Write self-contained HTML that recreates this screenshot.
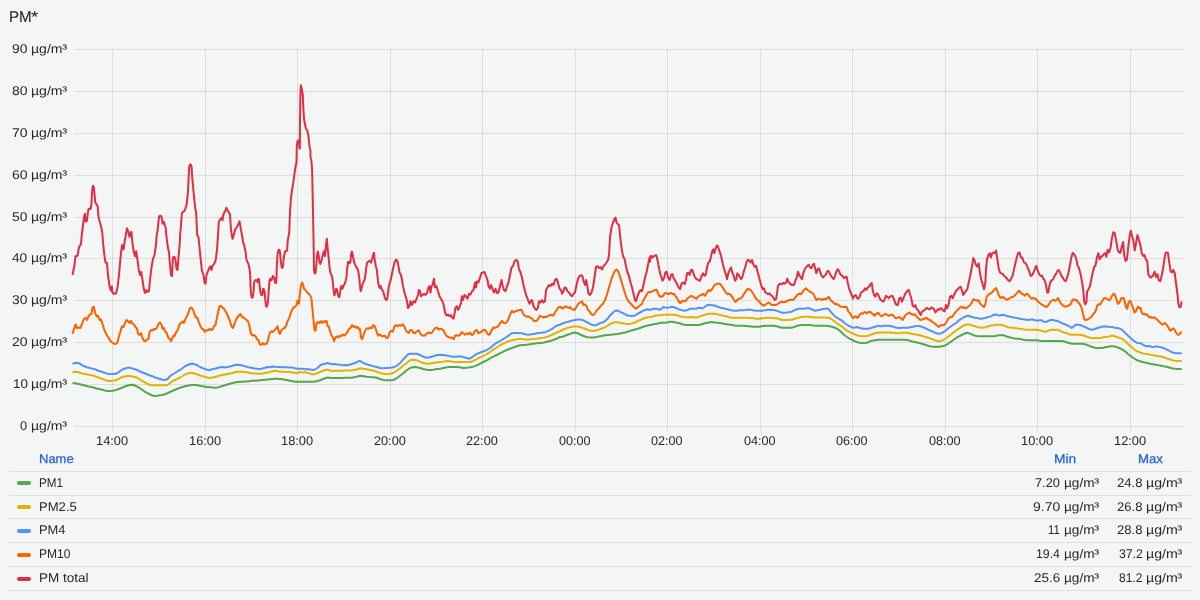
<!DOCTYPE html>
<html lang="en"><head><meta charset="utf-8"><title>PM*</title>
<style>
html,body{margin:0;padding:0}
body{width:1200px;height:600px;overflow:hidden;background:#f4f5f5;color:#24292e;font-family:"Liberation Sans",sans-serif;font-size:12.6px;position:relative;text-rendering:geometricPrecision}
.plot{position:absolute;left:0;top:0}
.t{position:absolute;line-height:16px;white-space:pre;transform-origin:0 0}
.g{position:absolute;left:0;top:0;width:0;height:0}
.sw{position:absolute;left:17px;width:14px;height:4px;border-radius:2px}
.hl{position:absolute;left:9px;width:1182px;height:1px;background:rgba(64,66,74,0.125)}
</style></head><body>
<svg class="plot" width="1200" height="450" viewBox="0 0 1200 450"><g stroke="#40424a" stroke-opacity="0.125" stroke-width="1" shape-rendering="crispEdges"><line x1="74" x2="1184" y1="426.5" y2="426.5"/><line x1="74" x2="1184" y1="384.5" y2="384.5"/><line x1="74" x2="1184" y1="342.5" y2="342.5"/><line x1="74" x2="1184" y1="300.5" y2="300.5"/><line x1="74" x2="1184" y1="258.5" y2="258.5"/><line x1="74" x2="1184" y1="217.5" y2="217.5"/><line x1="74" x2="1184" y1="175.5" y2="175.5"/><line x1="74" x2="1184" y1="133.5" y2="133.5"/><line x1="74" x2="1184" y1="91.5" y2="91.5"/><line x1="74" x2="1184" y1="49.5" y2="49.5"/><line x1="112.5" x2="112.5" y1="49" y2="431"/><line x1="205.5" x2="205.5" y1="49" y2="431"/><line x1="297.5" x2="297.5" y1="49" y2="431"/><line x1="390.5" x2="390.5" y1="49" y2="431"/><line x1="482.5" x2="482.5" y1="49" y2="431"/><line x1="575.5" x2="575.5" y1="49" y2="431"/><line x1="667.5" x2="667.5" y1="49" y2="431"/><line x1="760.5" x2="760.5" y1="49" y2="431"/><line x1="852.5" x2="852.5" y1="49" y2="431"/><line x1="945.5" x2="945.5" y1="49" y2="431"/><line x1="1037.5" x2="1037.5" y1="49" y2="431"/><line x1="1130.5" x2="1130.5" y1="49" y2="431"/></g><clipPath id="cp"><rect x="71" y="40" width="1114" height="395"/></clipPath><g fill="none" stroke-width="2" stroke-linejoin="round" stroke-linecap="butt" clip-path="url(#cp)"><path stroke="#56A64B" d="M72.5 383.0L75.0 383.2L77.5 383.8L80.0 384.2L82.5 385.0L85.0 385.5L87.5 386.2L90.0 386.8L92.5 387.2L95.0 388.0L97.5 388.8L100.0 389.2L102.5 389.8L105.0 390.5L107.5 391.0L110.0 391.0L112.5 390.8L115.0 390.2L117.5 389.5L120.0 388.5L122.5 387.5L125.0 386.5L127.5 385.5L130.0 385.0L132.5 384.8L135.0 385.5L137.5 386.8L140.0 388.2L142.5 390.0L145.0 391.8L147.5 393.2L150.0 394.5L152.5 395.5L155.0 396.0L157.5 395.8L160.0 395.2L162.5 395.0L165.0 394.2L167.5 393.2L170.0 392.0L172.5 390.8L175.0 389.8L177.5 388.8L180.0 387.8L182.5 387.0L185.0 386.2L187.5 385.8L190.0 385.2L192.5 385.0L195.0 385.0L197.5 385.2L200.0 385.8L202.5 386.2L205.0 386.8L207.5 387.0L210.0 387.2L212.5 387.5L215.0 387.8L217.5 387.5L220.0 386.8L222.5 386.0L225.0 385.2L227.5 384.5L230.0 383.8L232.5 383.0L235.0 382.5L237.5 382.0L240.0 381.8L242.5 381.8L245.0 381.5L247.5 381.5L250.0 381.0L252.5 380.8L255.0 380.8L257.5 380.5L260.0 380.2L262.5 380.0L265.0 379.8L267.5 379.5L270.0 379.2L272.5 379.0L275.0 378.8L277.5 378.8L280.0 379.0L282.5 379.2L285.0 379.8L287.5 380.2L290.0 380.8L292.5 381.2L295.0 381.8L297.5 381.8L300.0 381.8L302.5 381.8L305.0 381.8L307.5 381.8L310.0 381.8L312.5 381.8L315.0 381.5L317.5 381.0L320.0 380.2L322.5 379.2L325.0 378.2L327.5 377.5L330.0 377.8L332.5 378.0L335.0 378.0L337.5 378.0L340.0 378.0L342.5 378.0L345.0 377.8L347.5 377.8L350.0 377.8L352.5 377.5L355.0 377.0L357.5 376.5L360.0 375.8L363.3 376.2L366.7 376.7L370.0 377.0L373.3 377.2L376.7 377.7L380.0 379.0L383.3 380.0L386.7 380.2L390.0 380.2L393.3 380.0L396.7 378.3L400.0 375.8L403.3 373.3L406.7 370.3L410.0 368.0L413.3 367.0L416.7 367.2L420.0 368.0L423.3 369.0L426.7 369.7L430.0 370.0L433.3 369.7L436.7 369.0L440.0 368.7L443.3 368.0L446.7 367.3L450.0 367.0L453.3 367.0L456.7 367.0L460.0 367.3L463.3 368.0L466.7 367.7L470.0 367.3L473.3 366.7L476.7 365.3L480.0 363.7L483.3 362.0L486.7 360.3L490.0 358.3L493.3 356.7L496.7 355.0L500.0 353.3L503.3 351.7L506.7 350.0L510.0 348.7L513.3 347.5L516.7 346.3L520.0 345.3L523.3 345.0L526.7 344.7L530.0 344.2L533.3 343.7L536.7 343.3L540.0 343.0L543.3 342.7L546.7 341.7L550.0 341.0L553.3 340.0L556.7 338.7L560.0 337.0L562.5 336.8L565.0 335.8L567.5 334.8L570.0 334.0L572.5 333.0L575.0 332.5L577.5 333.2L580.0 334.5L582.5 335.5L585.0 336.5L587.5 337.2L590.0 337.5L592.5 337.5L595.0 337.2L597.5 336.8L600.0 336.2L602.5 335.8L605.0 335.2L607.5 335.0L610.0 334.8L612.5 334.5L615.0 334.2L617.5 334.0L620.0 333.5L622.5 333.0L625.0 332.5L627.5 331.8L630.0 331.0L632.5 330.2L635.0 329.5L637.5 328.8L640.0 328.0L642.5 327.0L645.0 326.2L647.5 325.5L650.0 325.0L651.7 324.7L653.3 324.3L655.0 324.0L656.7 323.7L658.3 323.3L660.0 323.0L661.7 322.8L663.3 322.7L665.0 322.7L666.7 322.5L668.3 322.2L670.0 321.7L671.7 321.7L673.3 322.0L675.0 322.3L676.7 322.7L678.3 323.0L680.0 323.3L681.7 324.0L683.3 324.5L685.0 324.8L686.7 325.0L688.3 325.0L690.0 325.0L691.7 325.0L693.3 325.0L695.0 325.0L696.7 325.0L698.3 325.0L700.0 324.7L701.7 324.2L703.3 323.7L705.0 323.2L706.7 322.8L708.3 322.7L710.0 322.3L711.7 322.0L713.3 322.2L715.0 322.5L716.7 322.7L718.3 322.8L720.0 323.0L721.7 323.3L723.3 323.7L725.0 324.0L726.7 324.3L728.3 324.5L730.0 324.7L731.7 324.8L733.3 325.2L735.0 325.5L736.7 325.7L738.3 325.8L740.0 325.8L741.7 325.8L743.3 325.8L745.0 326.0L746.7 326.0L748.3 326.2L750.0 326.3L751.7 326.7L753.3 326.8L755.0 326.8L756.7 326.8L758.3 326.7L760.0 326.5L761.7 326.2L763.3 326.0L765.0 325.8L766.7 325.8L768.3 325.8L770.0 325.8L771.7 325.8L773.3 325.8L775.0 326.0L776.7 326.3L778.3 326.7L780.0 327.2L781.7 327.7L783.3 327.8L785.0 327.8L786.7 327.8L788.3 327.8L790.0 327.8L791.7 327.7L793.3 327.3L795.0 326.7L796.7 326.0L798.3 325.5L800.0 325.2L801.7 325.0L803.3 325.0L805.0 325.0L806.7 325.0L808.3 325.0L810.0 325.0L811.7 325.2L813.3 325.5L815.0 325.7L816.7 325.8L818.3 325.8L820.0 325.8L821.7 325.8L823.3 325.8L825.0 325.8L826.7 325.8L828.3 326.0L830.0 326.3L831.7 326.7L833.3 327.2L835.0 327.8L836.7 328.7L838.3 329.7L840.0 330.8L841.7 332.5L843.3 334.2L845.0 335.5L846.7 336.7L848.3 337.8L850.0 338.8L851.7 339.7L853.3 340.5L855.0 341.3L856.7 342.0L858.3 342.5L860.0 342.8L861.7 343.0L863.3 343.0L865.0 343.0L866.7 342.8L868.3 342.2L870.0 341.3L871.7 340.8L873.3 340.5L875.0 340.2L876.7 340.0L878.3 339.8L880.0 339.8L881.7 339.7L883.3 339.7L885.0 339.7L886.7 339.7L888.3 339.7L890.0 339.7L891.7 339.7L893.3 339.7L895.0 339.7L896.7 339.7L898.3 339.7L900.0 339.7L901.7 339.7L903.3 339.7L905.0 339.8L906.7 340.0L908.3 340.3L910.0 340.7L911.7 341.2L913.3 341.7L915.0 342.0L916.7 342.5L918.3 342.8L920.0 343.3L921.7 343.8L923.3 344.3L925.0 344.8L926.7 345.3L928.3 345.8L930.0 346.2L931.7 346.5L933.3 346.7L935.0 346.8L936.7 346.8L938.3 346.8L940.0 346.7L941.7 346.3L943.3 346.0L945.0 345.5L946.7 344.7L948.3 343.5L950.0 342.3L951.7 341.2L953.3 340.0L955.0 338.8L956.7 337.7L958.3 336.7L960.0 335.8L961.7 335.0L963.3 334.2L965.0 333.3L966.7 332.8L968.3 333.0L970.0 333.7L971.7 334.3L973.3 335.0L975.0 335.7L976.7 336.0L978.3 336.2L980.0 336.2L981.7 336.2L983.3 336.2L985.0 336.2L986.7 336.2L988.3 336.2L990.0 336.2L991.7 336.2L993.3 336.2L995.0 336.0L996.7 335.7L998.3 335.3L1000.0 335.2L1001.7 335.0L1003.3 335.3L1005.0 335.8L1006.7 336.5L1008.3 337.0L1010.0 337.5L1011.7 337.8L1013.3 338.2L1015.0 338.5L1016.7 338.7L1018.3 338.8L1020.0 339.0L1021.7 339.3L1023.3 339.7L1025.0 340.0L1026.7 340.2L1028.3 340.2L1030.0 340.2L1031.7 340.2L1033.3 340.2L1035.0 340.2L1036.7 340.3L1038.3 340.5L1040.0 340.8L1041.7 341.0L1043.3 341.0L1045.0 341.0L1046.7 341.0L1048.3 341.0L1050.0 341.0L1051.7 341.0L1053.3 341.0L1055.0 341.0L1056.7 341.0L1058.3 341.0L1060.0 341.0L1061.7 341.0L1063.3 341.2L1065.0 341.7L1066.7 342.3L1068.3 342.8L1070.0 343.3L1071.7 343.7L1073.3 343.8L1075.0 343.8L1076.7 343.8L1078.3 343.8L1080.0 343.8L1081.7 343.8L1083.3 344.0L1085.0 344.3L1086.7 344.8L1088.3 345.5L1090.0 346.2L1091.7 346.7L1093.3 347.2L1095.0 347.7L1096.7 348.0L1098.3 348.0L1100.0 348.0L1101.7 348.0L1103.3 347.8L1105.0 347.3L1106.7 347.0L1108.3 346.7L1110.0 346.3L1111.7 346.2L1113.3 346.2L1115.0 346.5L1116.7 347.0L1118.3 347.7L1120.0 348.3L1121.7 349.2L1123.3 350.2L1125.0 351.3L1126.7 352.7L1128.3 354.2L1130.0 355.5L1131.7 356.8L1133.3 358.0L1135.0 359.0L1136.7 360.0L1138.3 360.7L1140.0 361.2L1141.7 361.7L1143.3 362.2L1145.0 362.5L1146.7 362.8L1148.3 363.3L1150.0 363.7L1151.7 364.0L1153.3 364.3L1155.0 364.7L1156.7 364.8L1158.3 365.2L1160.0 365.5L1161.7 365.8L1163.3 366.2L1165.0 366.5L1166.7 366.8L1168.3 367.2L1170.0 367.7L1171.7 368.2L1173.3 368.5L1175.0 368.8L1176.7 369.0L1178.3 369.0L1180.0 369.0L1181.7 369.0"/><path stroke="#E0B400" d="M72.5 372.0L75.0 371.8L77.5 372.0L80.0 372.8L82.5 373.5L85.0 374.0L87.5 374.5L90.0 375.0L92.5 375.2L95.0 376.2L97.5 377.0L100.0 378.0L102.5 379.0L105.0 380.0L107.5 380.8L110.0 381.0L112.5 380.8L115.0 380.5L117.5 379.5L120.0 378.2L122.5 377.0L125.0 376.5L127.5 376.0L130.0 376.0L132.5 376.5L135.0 377.0L137.5 378.0L140.0 379.5L142.5 381.2L145.0 382.5L147.5 383.8L150.0 385.0L152.5 385.2L155.0 385.2L157.5 385.2L160.0 385.2L162.5 385.2L165.0 385.2L167.5 385.0L170.0 383.0L172.5 381.2L175.0 380.0L177.5 378.8L180.0 377.5L182.5 376.0L185.0 374.5L187.5 373.5L190.0 372.8L192.5 373.0L195.0 373.8L197.5 374.5L200.0 375.5L202.5 376.2L205.0 377.0L207.5 377.5L210.0 378.0L212.5 377.5L215.0 377.0L217.5 376.2L220.0 375.5L222.5 375.0L225.0 374.5L227.5 374.0L230.0 373.5L232.5 373.0L235.0 372.2L237.5 371.8L240.0 371.8L242.5 371.8L245.0 372.0L247.5 372.5L250.0 373.0L252.5 373.2L255.0 373.5L257.5 373.8L260.0 373.8L262.5 373.5L265.0 373.0L267.5 372.5L270.0 372.0L272.5 371.2L275.0 370.8L277.5 371.2L280.0 371.5L282.5 371.8L285.0 372.0L287.5 372.0L290.0 372.0L292.5 372.5L295.0 373.0L297.5 373.0L300.0 372.0L302.5 372.5L305.0 372.0L307.5 373.0L310.0 373.5L312.5 374.5L315.0 374.0L317.5 373.0L320.0 372.0L322.5 371.0L325.0 370.0L327.5 369.5L330.0 370.5L332.5 371.0L335.0 370.8L337.5 370.8L340.0 370.8L342.5 370.8L345.0 370.5L347.5 370.5L350.0 370.5L352.5 370.2L355.0 369.8L357.5 369.2L360.0 368.3L363.3 368.7L366.7 369.3L370.0 370.0L373.3 370.8L376.7 371.7L380.0 373.0L383.3 373.8L386.7 374.0L390.0 373.8L393.3 373.0L396.7 370.8L400.0 368.3L403.3 365.8L406.7 363.0L410.0 360.3L413.3 359.7L416.7 360.3L420.0 361.7L423.3 363.0L426.7 363.7L430.0 363.5L433.3 363.0L436.7 362.5L440.0 362.0L443.3 361.7L446.7 361.0L450.0 361.3L453.3 361.7L456.7 362.0L460.0 362.0L463.3 362.0L466.7 362.0L470.0 362.0L473.3 361.0L476.7 359.2L480.0 357.5L483.3 355.8L486.7 354.2L490.0 352.0L493.3 349.7L496.7 347.5L500.0 345.3L503.3 343.7L506.7 342.0L510.0 340.8L513.3 340.0L516.7 339.3L520.0 338.8L523.3 339.3L526.7 339.7L530.0 339.3L533.3 339.0L536.7 338.7L540.0 338.0L543.3 337.7L546.7 337.0L550.0 335.8L553.3 334.2L556.7 332.5L560.0 331.3L562.5 329.8L565.0 328.8L567.5 328.0L570.0 327.2L572.5 326.8L575.0 326.5L577.5 326.5L580.0 327.0L582.5 327.8L585.0 328.8L587.5 329.8L590.0 330.5L592.5 331.0L595.0 330.8L597.5 330.0L600.0 329.2L602.5 328.2L605.0 327.2L607.5 325.8L610.0 324.2L612.5 323.0L615.0 322.2L617.5 322.2L620.0 322.8L622.5 323.2L625.0 323.8L627.5 324.0L630.0 323.8L632.5 323.2L635.0 322.5L637.5 321.2L640.0 320.0L642.5 319.0L645.0 318.0L647.5 317.2L650.0 317.0L651.7 316.7L653.3 316.3L655.0 315.8L656.7 315.5L658.3 315.3L660.0 315.2L661.7 315.0L663.3 314.8L665.0 314.7L666.7 314.7L668.3 314.7L670.0 314.7L671.7 314.7L673.3 314.8L675.0 315.0L676.7 315.3L678.3 315.8L680.0 316.3L681.7 316.7L683.3 317.0L685.0 317.2L686.7 317.2L688.3 317.2L690.0 317.2L691.7 317.0L693.3 317.2L695.0 317.5L696.7 317.5L698.3 317.0L700.0 316.3L701.7 315.8L703.3 315.3L705.0 314.7L706.7 314.2L708.3 313.8L710.0 313.7L711.7 313.7L713.3 313.7L715.0 313.8L716.7 314.2L718.3 314.5L720.0 315.0L721.7 315.3L723.3 315.7L725.0 316.0L726.7 316.3L728.3 317.0L730.0 317.5L731.7 317.7L733.3 317.8L735.0 317.8L736.7 317.8L738.3 317.8L740.0 317.8L741.7 317.8L743.3 317.8L745.0 317.8L746.7 317.8L748.3 317.8L750.0 318.0L751.7 318.0L753.3 318.2L755.0 318.5L756.7 318.7L758.3 318.7L760.0 318.7L761.7 318.3L763.3 318.2L765.0 318.0L766.7 317.8L768.3 317.8L770.0 317.8L771.7 318.0L773.3 318.0L775.0 318.2L776.7 318.3L778.3 318.7L780.0 319.2L781.7 319.7L783.3 320.0L785.0 320.0L786.7 320.0L788.3 320.0L790.0 319.8L791.7 319.7L793.3 319.2L795.0 318.7L796.7 318.2L798.3 317.7L800.0 317.3L801.7 317.0L803.3 316.8L805.0 316.8L806.7 316.8L808.3 316.8L810.0 317.0L811.7 317.2L813.3 317.3L815.0 317.5L816.7 317.5L818.3 317.5L820.0 317.5L821.7 317.5L823.3 317.5L825.0 317.5L826.7 317.5L828.3 317.7L830.0 318.3L831.7 319.3L833.3 320.5L835.0 321.7L836.7 323.0L838.3 324.2L840.0 325.3L841.7 326.3L843.3 327.8L845.0 329.2L846.7 330.3L848.3 331.3L850.0 332.2L851.7 333.0L853.3 333.7L855.0 334.3L856.7 335.3L858.3 335.8L860.0 336.0L861.7 336.2L863.3 336.2L865.0 336.2L866.7 336.0L868.3 335.7L870.0 335.0L871.7 334.3L873.3 333.7L875.0 333.2L876.7 332.8L878.3 332.7L880.0 332.5L881.7 332.5L883.3 332.5L885.0 332.5L886.7 332.5L888.3 332.5L890.0 332.5L891.7 332.7L893.3 332.8L895.0 333.0L896.7 333.3L898.3 333.3L900.0 333.0L901.7 332.8L903.3 332.8L905.0 332.8L906.7 332.8L908.3 333.0L910.0 333.3L911.7 333.7L913.3 334.0L915.0 334.3L916.7 334.7L918.3 335.0L920.0 335.3L921.7 335.8L923.3 336.3L925.0 336.8L926.7 337.3L928.3 337.8L930.0 338.3L931.7 339.0L933.3 339.7L935.0 340.3L936.7 340.8L938.3 341.2L940.0 341.0L941.7 340.7L943.3 340.0L945.0 339.0L946.7 337.8L948.3 336.7L950.0 335.3L951.7 334.0L953.3 332.5L955.0 331.2L956.7 330.0L958.3 328.8L960.0 327.8L961.7 326.7L963.3 325.7L965.0 325.0L966.7 324.5L968.3 324.5L970.0 324.8L971.7 325.3L973.3 325.8L975.0 326.3L976.7 326.8L978.3 327.2L980.0 327.5L981.7 327.8L983.3 327.8L985.0 327.3L986.7 326.7L988.3 326.2L990.0 325.8L991.7 325.5L993.3 325.2L995.0 325.0L996.7 324.8L998.3 324.8L1000.0 324.8L1001.7 325.0L1003.3 325.3L1005.0 326.0L1006.7 326.7L1008.3 327.2L1010.0 327.5L1011.7 327.7L1013.3 327.8L1015.0 328.0L1016.7 328.3L1018.3 328.5L1020.0 328.8L1021.7 329.0L1023.3 329.3L1025.0 329.5L1026.7 329.7L1028.3 329.7L1030.0 329.7L1031.7 329.7L1033.3 329.7L1035.0 329.7L1036.7 329.8L1038.3 330.0L1040.0 330.3L1041.7 330.8L1043.3 331.3L1045.0 331.7L1046.7 331.3L1048.3 330.8L1050.0 330.0L1051.7 329.7L1053.3 329.7L1055.0 330.0L1056.7 329.8L1058.3 329.7L1060.0 330.8L1061.7 331.7L1063.3 332.3L1065.0 332.8L1066.7 333.3L1068.3 333.8L1070.0 334.5L1071.7 334.8L1073.3 334.8L1075.0 334.8L1076.7 334.8L1078.3 334.8L1080.0 334.8L1081.7 335.0L1083.3 335.5L1085.0 336.0L1086.7 336.7L1088.3 337.3L1090.0 337.8L1091.7 338.0L1093.3 338.0L1095.0 338.0L1096.7 338.0L1098.3 338.0L1100.0 338.0L1101.7 337.7L1103.3 337.3L1105.0 337.0L1106.7 337.0L1108.3 336.7L1110.0 336.2L1111.7 335.8L1113.3 335.8L1115.0 336.3L1116.7 337.0L1118.3 337.5L1120.0 338.0L1121.7 338.7L1123.3 339.7L1125.0 341.0L1126.7 342.5L1128.3 344.2L1130.0 345.7L1131.7 347.2L1133.3 348.7L1135.0 350.0L1136.7 350.8L1138.3 351.7L1140.0 352.3L1141.7 353.0L1143.3 353.5L1145.0 353.8L1146.7 354.0L1148.3 354.3L1150.0 354.7L1151.7 355.0L1153.3 355.3L1155.0 355.7L1156.7 356.0L1158.3 356.2L1160.0 356.3L1161.7 356.7L1163.3 357.2L1165.0 357.7L1166.7 358.3L1168.3 359.0L1170.0 359.5L1171.7 360.0L1173.3 360.5L1175.0 360.8L1176.7 361.0L1178.3 361.0L1180.0 361.0L1181.7 361.0"/><path stroke="#5794F2" d="M72.5 363.8L75.0 363.0L77.5 362.8L80.0 363.8L82.5 365.5L85.0 366.5L87.5 367.5L90.0 368.0L92.5 368.8L95.0 369.2L97.5 370.5L100.0 371.2L102.5 372.0L105.0 373.0L107.5 373.8L110.0 374.0L112.5 374.0L115.0 374.0L117.5 373.0L120.0 371.2L122.5 369.5L125.0 368.5L127.5 367.8L130.0 367.8L132.5 368.5L135.0 369.2L137.5 370.2L140.0 371.5L142.5 372.5L145.0 373.5L147.5 374.5L150.0 375.5L152.5 376.2L155.0 377.5L157.5 378.2L160.0 379.0L162.5 379.8L165.0 380.0L167.5 379.0L170.0 376.2L172.5 374.5L175.0 373.0L177.5 371.2L180.0 370.0L182.5 368.2L185.0 366.2L187.5 365.0L190.0 364.0L192.5 363.8L195.0 364.2L197.5 365.5L200.0 367.0L202.5 368.0L205.0 369.2L207.5 369.8L210.0 370.2L212.5 369.0L215.0 368.8L217.5 368.0L220.0 367.2L222.5 367.0L225.0 367.5L227.5 367.0L230.0 366.5L232.5 365.8L235.0 365.0L237.5 364.8L240.0 365.0L242.5 365.5L245.0 366.2L247.5 367.0L250.0 367.5L252.5 368.0L255.0 368.5L257.5 368.8L260.0 369.0L262.5 368.5L265.0 367.8L267.5 367.0L270.0 367.2L272.5 366.5L275.0 366.8L277.5 367.0L280.0 367.0L282.5 367.2L285.0 367.2L287.5 367.2L290.0 367.5L292.5 367.5L295.0 368.2L297.5 368.8L300.0 368.8L302.5 368.8L305.0 369.2L307.5 369.0L310.0 369.5L312.5 370.0L315.0 369.5L317.5 368.0L320.0 365.5L322.5 364.2L325.0 363.8L327.5 363.0L330.0 363.8L332.5 364.2L335.0 364.0L337.5 364.5L340.0 364.8L342.5 365.2L345.0 365.0L347.5 365.2L350.0 364.5L352.5 363.8L355.0 363.0L357.5 361.8L360.0 360.8L363.3 363.0L366.7 364.2L370.0 365.3L373.3 366.3L376.7 367.0L380.0 368.0L383.3 368.3L386.7 368.0L390.0 367.7L393.3 367.3L396.7 365.8L400.0 363.3L403.3 359.2L406.7 355.8L408.3 354.2L410.0 353.7L413.3 353.8L416.7 353.7L420.0 355.0L423.3 356.7L426.7 357.7L430.0 357.2L433.3 356.2L436.7 355.0L440.0 354.7L443.3 355.0L446.7 355.5L450.0 356.3L453.3 356.7L456.7 356.7L460.0 356.2L463.3 357.0L466.7 358.0L469.2 358.7L471.7 357.5L475.0 355.0L478.3 353.3L481.7 352.0L485.0 350.8L488.3 349.2L491.7 346.7L495.0 343.7L498.3 342.0L501.7 340.0L505.0 338.0L508.3 335.8L511.7 333.3L515.0 333.0L518.3 333.0L521.7 333.3L525.0 334.3L528.3 334.7L531.7 334.3L535.0 333.7L538.3 333.0L541.7 332.7L545.0 332.2L548.3 330.8L551.7 329.2L555.0 326.7L558.3 325.0L560.0 324.7L562.5 323.5L565.0 322.5L567.5 322.0L570.0 321.2L572.5 320.5L575.0 320.0L577.5 319.5L580.0 319.5L582.5 320.0L585.0 321.2L587.5 322.5L590.0 323.8L592.5 325.0L595.0 325.5L597.5 324.5L600.0 323.2L602.5 322.5L605.0 321.2L607.5 318.8L610.0 315.5L612.5 313.0L615.0 310.8L617.5 310.5L620.0 311.8L622.5 313.0L625.0 314.2L627.5 315.5L630.0 315.8L632.5 316.0L635.0 315.5L637.5 313.8L640.0 312.5L642.5 311.2L645.0 310.0L647.5 309.2L650.0 310.0L651.7 309.2L653.3 308.8L655.0 308.7L656.7 308.7L658.3 309.2L660.0 309.7L661.7 308.7L663.3 307.0L665.0 307.5L666.7 307.8L668.3 307.5L670.0 307.2L671.7 306.7L673.3 307.0L675.0 307.7L676.7 308.3L678.3 309.2L680.0 309.7L681.7 310.0L683.3 310.5L685.0 310.8L686.7 310.3L688.3 309.7L690.0 308.8L691.7 308.7L693.3 308.8L695.0 308.7L696.7 308.5L698.3 308.0L700.0 307.8L701.7 308.3L703.3 308.0L705.0 306.7L706.7 305.5L708.3 304.7L710.0 305.0L711.7 305.3L713.3 305.3L715.0 305.7L716.7 306.3L718.3 307.0L720.0 307.5L721.7 308.0L723.3 308.3L725.0 308.7L726.7 309.0L728.3 309.5L730.0 310.0L731.7 310.3L733.3 310.7L735.0 310.8L736.7 310.8L738.3 310.5L740.0 310.3L741.7 310.3L743.3 310.2L745.0 310.0L746.7 309.7L748.3 309.5L750.0 309.7L751.7 310.0L753.3 310.3L755.0 310.7L756.7 310.8L758.3 310.8L760.0 310.7L761.7 310.7L763.3 310.5L765.0 310.3L766.7 310.0L768.3 309.8L770.0 309.8L771.7 310.0L773.3 310.0L775.0 310.3L776.7 310.8L778.3 311.3L780.0 312.0L781.7 312.5L783.3 312.8L785.0 312.7L786.7 312.5L788.3 312.2L790.0 312.0L791.7 311.7L793.3 310.8L795.0 310.0L796.7 309.3L798.3 308.8L800.0 308.7L801.7 308.7L803.3 308.7L805.0 308.5L806.7 308.2L808.3 308.0L810.0 308.7L811.7 309.3L813.3 310.0L815.0 310.8L816.7 310.5L818.3 310.0L820.0 309.7L821.7 309.3L823.3 309.0L825.0 308.8L826.7 308.5L828.3 308.7L830.0 310.8L831.7 312.8L833.3 314.7L835.0 316.3L836.7 317.7L838.3 318.7L840.0 319.7L841.7 320.3L843.3 322.0L845.0 323.3L846.7 324.5L848.3 325.5L850.0 326.3L851.7 327.2L853.3 327.8L855.0 327.5L856.7 327.0L858.3 327.5L860.0 328.0L861.7 328.3L863.3 328.7L865.0 328.8L866.7 328.8L868.3 328.7L870.0 328.3L871.7 327.8L873.3 327.3L875.0 326.7L876.7 326.2L878.3 325.8L880.0 326.3L881.7 326.2L883.3 325.8L885.0 325.7L886.7 325.7L888.3 325.8L890.0 326.0L891.7 326.3L893.3 326.7L895.0 327.2L896.7 327.7L898.3 328.0L900.0 328.0L901.7 327.8L903.3 327.7L905.0 327.7L906.7 327.8L908.3 327.7L910.0 327.3L911.7 327.0L913.3 326.7L915.0 326.2L916.7 326.0L918.3 326.0L920.0 326.2L921.7 326.7L923.3 327.3L925.0 328.0L926.7 328.8L928.3 329.7L930.0 330.5L931.7 331.2L933.3 332.0L935.0 332.7L936.7 333.3L938.3 333.8L940.0 333.7L941.7 333.0L943.3 332.2L945.0 331.0L946.7 329.7L948.3 328.3L950.0 327.0L951.7 325.8L953.3 324.7L955.0 323.7L956.7 322.5L958.3 320.8L960.0 319.7L961.7 318.7L963.3 317.5L965.0 316.7L966.7 316.0L968.3 315.8L970.0 316.3L971.7 317.0L973.3 317.3L975.0 317.7L976.7 318.0L978.3 318.3L980.0 318.7L981.7 318.8L983.3 318.3L985.0 318.0L986.7 317.5L988.3 317.0L990.0 316.7L991.7 315.8L993.3 315.0L995.0 314.5L996.7 314.7L998.3 315.3L1000.0 315.5L1001.7 315.0L1003.3 314.7L1005.0 315.3L1006.7 316.0L1008.3 316.3L1010.0 316.7L1011.7 317.0L1013.3 317.5L1015.0 317.8L1016.7 318.0L1018.3 318.3L1020.0 318.7L1021.7 319.0L1023.3 319.3L1025.0 319.5L1026.7 319.7L1028.3 320.0L1030.0 319.7L1031.7 319.3L1033.3 319.7L1035.0 320.2L1036.7 320.5L1038.3 320.7L1040.0 320.0L1041.7 320.5L1043.3 321.3L1045.0 322.0L1046.7 321.7L1048.3 320.8L1050.0 320.3L1051.7 319.7L1053.3 320.0L1055.0 320.5L1056.7 320.8L1058.3 321.3L1060.0 322.2L1061.7 323.0L1063.3 323.8L1065.0 324.3L1066.7 325.0L1068.3 325.8L1070.0 326.7L1071.7 328.0L1073.3 326.7L1075.0 325.3L1076.7 324.7L1078.3 324.7L1080.0 325.0L1081.7 325.5L1083.3 326.3L1085.0 327.0L1086.7 327.8L1088.3 328.7L1090.0 329.3L1091.7 329.7L1093.3 329.5L1095.0 328.8L1096.7 328.3L1098.3 327.7L1100.0 327.2L1101.7 326.8L1103.3 326.5L1105.0 326.3L1106.7 326.7L1108.3 326.8L1110.0 327.0L1111.7 327.0L1113.3 327.3L1115.0 327.7L1116.7 328.0L1118.3 328.3L1120.0 328.7L1121.7 329.7L1123.3 331.0L1125.0 332.7L1126.7 334.3L1128.3 336.0L1130.0 337.5L1131.7 339.0L1133.3 340.3L1135.0 341.7L1136.7 342.7L1138.3 343.0L1140.0 343.2L1141.7 343.7L1143.3 345.0L1145.0 345.8L1146.7 346.2L1148.3 346.0L1150.0 346.2L1151.7 346.7L1153.3 347.0L1155.0 346.8L1156.7 346.3L1158.3 346.7L1160.0 347.0L1161.7 347.5L1163.3 348.0L1165.0 348.7L1166.7 349.5L1168.3 350.3L1170.0 351.2L1171.7 352.0L1173.3 352.7L1175.0 353.0L1176.7 353.2L1178.3 353.2L1180.0 353.3L1181.7 353.3"/><path stroke="#FA6400" d="M72.5 333.8L74.0 328.8L75.5 324.5L77.0 328.0L79.0 327.5L80.5 328.0L82.0 323.8L84.0 318.8L85.5 318.0L87.0 320.0L88.5 316.2L90.0 314.5L91.5 313.8L92.5 307.5L93.8 306.8L95.0 312.5L96.5 316.2L98.0 315.8L99.5 320.0L101.0 319.5L102.5 323.8L104.0 328.8L105.5 332.5L107.0 335.5L108.5 337.5L110.0 340.5L111.5 342.0L113.0 343.0L114.5 344.0L116.0 343.8L117.5 342.5L119.0 336.2L120.5 331.2L122.0 326.2L123.5 327.0L125.0 323.0L126.5 320.0L128.0 321.2L129.5 323.0L131.0 320.8L132.5 323.8L134.0 324.5L135.5 327.0L137.0 328.8L138.0 333.8L139.5 335.0L141.0 333.0L142.5 338.0L144.0 340.8L145.5 341.2L147.0 339.5L148.5 338.8L149.5 332.5L151.0 330.0L152.5 330.5L154.0 328.8L155.5 329.5L157.0 327.5L158.5 323.8L160.0 322.5L161.5 324.5L162.5 328.8L164.0 328.0L165.0 331.2L166.5 332.5L168.0 337.0L169.5 338.8L171.0 341.2L172.5 337.5L173.5 335.5L174.5 336.2L176.0 332.5L177.5 330.5L179.0 326.2L180.0 323.8L181.5 322.5L183.0 321.2L184.0 323.0L185.5 318.8L187.0 316.2L188.5 312.5L190.0 308.2L191.5 307.5L193.0 309.5L194.5 313.8L196.0 317.5L197.5 318.0L199.0 323.0L200.5 326.2L202.0 328.8L203.5 329.5L205.0 332.0L206.5 330.0L208.0 330.5L209.5 328.8L211.0 330.0L212.5 329.5L214.0 326.2L215.5 325.0L216.5 320.0L218.0 312.5L219.5 306.2L221.0 305.8L222.5 307.5L224.0 308.8L225.5 311.2L227.0 313.8L228.5 317.5L230.0 321.2L231.5 326.2L233.0 328.0L234.5 323.8L236.0 320.0L237.5 317.0L239.0 315.5L240.5 313.8L242.0 317.0L243.5 317.5L245.0 318.8L246.5 320.0L248.0 321.2L249.5 326.2L251.0 333.8L252.5 335.5L254.0 335.0L255.5 336.2L257.0 339.5L258.5 340.0L259.5 343.8L261.0 345.0L262.5 343.0L264.0 344.5L265.5 343.8L267.0 343.8L268.5 337.5L270.0 332.5L271.5 331.2L273.0 332.0L274.5 330.0L276.0 328.8L277.5 326.2L279.0 332.5L280.0 333.8L281.5 330.0L283.0 328.8L284.5 328.0L286.0 326.2L287.5 321.2L289.0 318.8L290.5 313.8L292.0 310.0L293.5 307.5L295.0 307.0L296.5 305.0L297.5 300.5L299.0 303.8L300.0 292.5L301.0 285.0L302.0 282.5L303.0 284.5L304.0 288.8L305.5 290.0L307.0 292.0L308.5 293.8L310.0 295.0L311.5 298.8L312.5 310.0L313.5 320.0L314.5 330.0L315.5 330.8L316.5 323.8L317.5 322.0L319.0 323.0L320.5 321.2L322.0 323.0L323.5 321.2L325.0 322.0L326.5 320.8L327.5 325.5L329.0 327.0L330.0 331.2L331.5 335.5L333.0 337.5L334.0 341.2L335.5 337.5L337.0 336.2L338.5 337.5L340.0 335.5L341.5 336.2L343.0 334.5L344.5 335.5L346.0 333.8L347.5 332.0L349.0 328.8L350.5 328.0L352.0 325.0L353.5 327.0L355.0 326.2L356.5 328.0L358.0 327.0L359.5 330.0L360.0 329.2L361.0 337.5L362.0 339.2L363.3 335.8L365.0 330.8L366.7 328.3L368.3 328.7L370.0 327.5L371.7 328.3L373.3 325.0L375.0 326.7L376.7 331.7L378.0 335.8L379.7 334.2L381.3 335.8L383.3 336.3L385.0 335.8L386.3 338.0L388.0 337.5L389.3 333.3L391.0 330.8L392.7 331.7L394.3 326.7L396.0 325.0L397.7 326.3L399.3 325.0L401.0 325.8L402.7 324.2L404.0 325.8L405.3 329.2L407.0 331.7L408.7 333.0L410.0 330.3L411.7 330.0L413.3 332.5L415.0 333.3L416.7 331.3L418.7 330.3L420.3 333.3L422.0 335.3L423.7 335.8L425.3 335.0L427.0 333.3L428.7 332.5L430.3 333.3L432.0 332.5L433.7 330.0L435.3 328.0L437.0 327.5L438.7 329.7L440.3 328.7L442.0 329.2L443.7 330.8L445.3 334.2L447.0 336.3L448.7 337.0L450.3 338.0L452.0 337.5L453.7 339.2L455.0 335.8L456.7 335.3L458.3 335.8L460.0 335.0L461.7 332.0L463.3 333.3L465.0 334.7L466.7 333.3L468.3 334.2L470.0 332.5L471.7 335.0L473.3 334.2L475.0 330.8L476.7 330.0L478.3 333.3L480.0 332.5L481.7 331.7L483.3 330.0L485.0 329.7L486.7 332.5L488.3 334.7L490.0 334.2L491.7 330.0L493.3 327.5L495.0 328.0L496.7 327.0L498.3 326.3L500.0 323.3L502.0 320.8L503.7 323.0L505.3 323.3L507.0 322.0L508.7 318.3L510.3 314.2L512.0 310.8L513.7 312.5L515.3 311.3L517.0 310.8L518.7 310.3L520.3 309.7L521.7 310.0L523.3 314.2L525.0 315.8L526.7 316.7L528.3 316.3L530.0 317.5L531.7 318.3L533.3 320.3L535.0 321.3L536.7 320.8L538.3 318.7L540.0 315.8L541.7 316.7L543.3 317.5L545.0 316.7L546.7 317.0L548.3 315.8L550.0 315.0L551.7 314.7L553.3 315.8L555.0 312.5L556.7 310.0L558.3 307.5L560.0 307.0L561.0 307.0L562.5 308.8L564.0 307.5L565.5 306.2L567.0 307.0L568.5 308.0L570.0 307.0L571.5 308.8L573.0 309.5L574.5 310.0L576.0 307.5L577.5 305.0L579.0 303.0L580.5 302.5L582.0 301.2L583.5 305.0L585.0 304.5L586.5 306.2L588.0 310.0L589.5 311.2L591.0 313.8L592.5 315.0L594.0 314.5L595.5 312.5L597.0 310.0L598.5 308.8L600.0 307.0L601.5 305.0L603.0 303.8L604.5 301.2L606.0 297.5L607.5 292.5L609.0 287.5L610.5 282.5L612.0 277.5L613.5 273.8L615.0 270.5L616.5 269.5L618.0 271.2L619.5 275.0L621.0 280.0L622.5 285.0L624.0 290.0L625.5 295.0L627.0 298.8L628.5 301.2L630.0 303.0L631.5 304.5L633.0 306.2L634.5 307.5L636.0 308.8L637.5 307.5L639.0 306.2L640.5 305.0L642.0 303.8L643.5 300.0L645.0 297.5L646.5 295.0L648.0 292.5L649.5 292.0L650.0 292.0L651.7 291.7L653.3 290.8L655.0 290.0L656.7 289.7L658.0 293.3L659.3 295.8L660.7 297.0L662.0 296.3L663.3 295.8L664.7 293.3L666.0 293.0L667.3 293.7L668.7 294.2L670.0 293.3L671.3 293.0L672.7 294.2L674.0 293.7L675.3 295.8L676.7 297.5L678.0 300.0L679.3 302.5L680.7 303.0L682.0 301.3L683.3 300.8L684.7 301.2L686.0 300.8L687.3 298.3L688.7 297.5L690.0 296.7L691.3 295.8L692.7 296.7L694.0 297.5L695.3 298.0L696.7 298.7L698.0 296.7L699.3 295.8L700.7 295.0L702.0 294.7L703.3 293.7L704.7 295.8L706.0 294.2L707.3 291.7L708.7 290.0L710.0 291.3L711.3 290.0L712.7 288.3L714.0 285.8L715.3 284.7L716.7 283.7L718.0 283.7L719.3 283.8L720.7 284.2L722.0 286.7L723.3 288.3L724.7 290.8L726.0 292.5L727.3 294.2L728.7 293.7L730.0 294.2L731.3 295.8L732.7 297.5L734.0 300.0L735.3 302.0L736.7 300.8L738.0 299.2L739.3 298.7L740.7 298.3L742.0 297.5L743.3 295.0L744.7 293.0L746.0 290.8L747.3 289.2L748.7 288.7L750.0 289.7L751.3 290.8L752.7 293.0L754.0 295.0L755.3 297.5L756.7 299.2L758.0 300.3L759.3 301.7L760.7 303.3L762.0 304.7L763.3 305.8L764.7 305.3L766.0 304.2L767.3 303.3L768.7 302.5L770.0 303.3L771.3 304.7L772.7 305.0L774.0 304.7L775.3 305.0L776.7 304.7L778.0 303.7L779.3 303.0L780.7 302.0L782.0 301.7L783.3 302.5L784.7 301.7L786.0 302.0L787.3 300.8L788.7 300.3L790.0 300.0L791.3 299.7L792.7 300.0L794.0 299.2L795.3 297.5L796.7 295.8L798.0 294.2L799.3 293.7L800.7 294.2L802.0 293.0L803.3 290.8L804.7 289.2L806.0 288.3L807.3 289.7L808.7 290.8L810.0 291.7L811.3 292.5L812.7 293.3L814.0 295.0L815.3 298.3L816.7 300.0L818.0 298.7L819.3 298.8L820.7 299.2L822.0 299.7L823.3 299.2L824.7 298.7L826.0 299.2L827.3 298.0L828.7 296.7L830.0 299.2L831.3 300.8L832.7 302.0L834.0 303.3L835.3 304.2L836.7 303.7L838.0 304.7L839.3 305.8L840.7 306.7L841.7 306.7L843.3 307.0L845.0 306.7L846.7 307.0L848.0 310.8L849.3 312.5L850.7 314.2L852.0 316.7L853.3 318.3L854.7 316.7L856.0 316.3L857.3 318.0L858.7 316.7L860.0 314.2L861.3 313.3L862.7 313.7L864.0 312.5L865.3 312.0L866.7 313.3L868.0 312.5L869.3 311.7L870.7 312.0L872.0 313.7L873.3 314.2L874.7 315.8L876.0 314.2L877.3 313.0L878.7 313.3L880.0 315.3L881.3 316.3L882.7 315.8L884.0 314.7L885.3 313.7L886.7 314.7L888.0 315.3L889.3 315.8L890.7 315.0L892.0 314.7L893.3 315.3L894.7 317.5L896.0 318.3L897.3 318.0L898.7 317.0L900.0 317.5L901.3 318.7L902.7 320.0L904.0 317.5L905.3 315.3L906.7 314.2L908.0 313.3L909.3 312.5L910.7 313.7L912.0 314.2L913.3 314.7L914.7 314.2L916.0 315.8L917.3 317.5L918.7 318.3L920.0 320.0L921.3 319.7L922.7 319.2L924.0 318.7L925.3 318.3L926.7 318.0L928.0 319.2L929.3 320.0L930.7 320.3L932.0 321.7L933.3 322.5L934.7 323.3L936.0 324.7L937.3 325.8L938.7 327.0L940.0 325.8L941.3 325.0L942.7 325.3L944.0 325.0L945.3 323.7L946.7 321.7L948.0 319.2L949.3 318.0L950.7 316.7L952.0 317.0L953.3 315.3L954.7 313.3L956.0 311.7L957.3 310.0L958.7 308.7L960.0 307.5L961.3 306.7L962.7 308.0L964.0 307.0L965.3 308.3L966.7 308.0L968.0 306.7L969.3 305.8L970.7 304.2L972.0 302.5L973.3 299.2L974.7 299.7L976.0 300.0L977.3 300.8L978.7 300.3L980.0 303.3L981.3 305.0L982.7 305.8L984.0 307.0L985.3 304.2L986.7 296.7L988.0 295.0L989.3 294.2L990.7 293.3L992.0 292.5L993.3 290.8L994.7 289.2L996.0 288.0L997.3 290.8L998.7 295.0L1000.0 297.5L1001.3 298.0L1001.7 297.2L1003.3 297.0L1005.0 298.7L1006.7 299.7L1008.3 299.2L1010.0 298.0L1011.7 297.2L1013.3 296.7L1015.0 295.3L1016.7 293.3L1018.3 291.3L1019.2 290.8L1020.3 292.0L1021.7 293.7L1023.3 294.2L1024.7 295.8L1026.0 294.2L1027.3 293.7L1028.7 295.3L1030.0 297.0L1031.3 298.7L1032.7 298.0L1034.0 298.7L1035.3 298.3L1036.7 300.0L1038.0 301.7L1039.3 302.5L1040.7 303.7L1042.0 304.7L1043.3 305.3L1044.7 306.3L1046.0 307.2L1047.3 306.3L1048.7 304.7L1050.0 302.5L1051.3 300.8L1052.7 300.0L1054.0 300.0L1055.3 300.8L1056.7 299.7L1058.0 298.0L1059.3 300.8L1060.7 303.3L1062.0 304.7L1063.3 305.8L1064.7 306.7L1066.0 306.3L1067.3 306.3L1068.7 305.3L1070.0 305.0L1071.3 302.5L1072.7 299.7L1074.0 299.2L1075.3 300.3L1076.7 300.0L1078.0 302.5L1079.3 303.3L1080.7 305.8L1082.0 309.2L1083.3 315.0L1084.3 319.2L1085.3 320.0L1086.7 319.7L1088.0 319.2L1089.3 318.3L1090.7 317.5L1092.0 315.8L1093.3 314.2L1094.7 312.5L1096.0 310.0L1097.3 305.3L1098.7 304.2L1100.0 304.7L1101.3 302.5L1102.7 300.3L1104.0 298.3L1105.3 298.0L1106.7 298.7L1108.0 299.7L1109.3 300.3L1110.7 298.7L1112.0 295.8L1113.3 294.2L1114.3 293.7L1115.3 295.8L1116.7 300.0L1117.7 303.7L1119.0 303.3L1120.3 300.8L1121.3 298.0L1122.7 298.3L1123.7 298.0L1124.7 301.7L1126.0 307.5L1127.3 308.7L1128.3 303.3L1129.7 300.8L1130.7 301.3L1131.7 304.7L1133.0 307.5L1134.3 312.5L1135.7 311.7L1137.0 308.3L1138.0 306.7L1139.3 308.3L1140.7 308.0L1141.7 312.5L1143.0 314.2L1144.3 313.7L1145.7 315.0L1147.0 314.2L1148.0 315.8L1149.3 317.5L1150.7 317.0L1152.0 318.0L1153.3 317.5L1154.7 317.5L1156.0 318.7L1157.3 319.7L1158.7 321.3L1160.0 322.5L1161.3 323.7L1162.7 324.7L1164.0 323.7L1165.3 323.0L1166.7 325.0L1168.0 326.7L1169.3 329.2L1170.7 330.8L1172.0 329.2L1173.3 328.3L1174.7 330.0L1176.0 332.5L1177.3 334.2L1178.3 335.0L1179.7 334.2L1180.7 332.5L1181.7 331.7"/><path stroke="#E02F44" d="M72.5 275.0L74.5 265.0L75.5 256.2L77.5 255.8L79.0 247.5L81.0 243.8L81.7 235.0L82.8 227.0L83.9 217.7L84.9 213.7L85.7 221.7L86.8 221.0L87.6 215.0L88.4 209.4L89.5 208.6L90.5 209.0L91.3 205.7L91.9 195.0L92.4 187.7L93.2 185.7L94.0 188.3L94.8 197.7L95.3 202.3L96.4 204.3L97.7 206.3L98.3 215.0L99.1 219.7L100.1 223.0L101.2 227.0L102.0 231.0L102.5 235.0L103.0 242.5L104.5 256.2L105.5 262.5L107.0 263.0L108.0 275.0L109.5 286.2L110.8 290.5L111.8 286.2L112.5 292.5L114.0 294.0L116.0 293.2L117.5 287.5L119.0 275.0L120.5 257.5L122.0 245.0L123.5 249.5L124.5 242.5L126.0 233.8L127.0 228.2L128.5 232.5L129.5 237.0L130.5 232.5L131.5 232.0L132.5 243.8L134.0 252.5L135.0 256.2L136.2 251.2L137.5 260.0L138.8 270.0L140.0 275.0L141.2 272.0L142.5 280.0L143.8 288.8L145.0 293.0L146.2 290.0L147.5 292.0L149.0 291.2L150.0 280.0L151.5 267.5L153.0 258.8L154.5 255.0L156.0 245.0L156.7 235.0L157.7 229.7L158.5 221.7L159.1 216.6L160.1 215.7L161.2 216.1L162.0 219.0L162.5 223.7L163.3 221.7L164.1 222.3L164.9 225.7L165.7 227.7L166.3 235.0L167.5 245.0L169.0 252.5L170.0 265.0L171.0 275.0L172.0 276.2L173.0 257.5L174.5 256.8L175.5 260.0L176.5 268.8L177.5 270.0L178.5 257.5L180.0 240.0L180.1 235.0L180.9 227.0L181.7 215.0L182.3 212.6L183.3 211.7L184.4 211.0L185.5 208.3L186.5 205.0L187.3 199.0L188.1 189.7L188.7 176.3L189.2 167.0L190.0 164.6L190.8 164.6L191.6 167.0L192.1 176.3L192.9 184.3L193.7 193.7L194.5 201.7L195.3 208.3L196.1 212.3L196.7 224.3L197.2 235.0L198.5 237.5L199.5 247.5L201.0 262.5L202.0 271.2L203.5 275.0L204.5 282.5L205.5 283.8L206.5 275.0L208.0 271.2L209.5 267.5L210.5 266.2L211.5 270.0L212.5 266.2L214.0 263.8L215.5 261.2L217.0 250.0L218.0 235.0L218.8 221.7L219.9 219.7L220.9 218.7L221.7 217.7L222.5 220.3L223.3 215.0L224.4 212.3L225.5 210.3L226.3 207.7L227.1 209.0L228.1 211.7L229.2 213.0L230.0 214.3L231.0 230.0L232.5 238.8L233.5 236.2L235.0 230.0L236.5 227.5L238.0 225.0L239.5 221.2L241.0 230.0L242.3 236.7L243.1 242.7L244.1 244.7L244.9 248.7L245.7 252.7L246.3 258.7L247.1 261.3L248.1 263.3L248.9 266.0L249.7 270.0L250.3 276.7L250.5 286.0L251.1 294.0L251.9 297.7L252.7 297.3L253.5 292.7L254.0 283.3L254.8 280.7L255.9 280.0L256.7 280.7L257.5 282.0L258.3 278.7L259.1 279.3L259.6 286.0L260.4 292.0L261.5 295.1L262.3 295.3L263.1 288.7L263.9 289.3L264.7 292.7L265.5 302.0L266.3 306.7L267.1 306.3L267.9 302.0L268.7 291.3L269.5 280.7L270.3 278.7L271.1 280.4L271.9 279.6L272.7 276.0L273.5 276.7L274.3 278.0L275.1 282.7L275.9 283.3L276.4 279.3L276.9 263.3L277.7 253.3L278.5 250.0L279.3 249.7L280.1 252.7L280.7 260.7L281.5 266.7L282.3 268.0L283.1 266.0L283.6 258.7L284.4 254.7L285.2 251.3L286.0 250.7L287.1 250.7L287.6 242.0L288.4 236.7L289.2 233.3L290.0 212.5L291.0 197.5L292.5 187.5L293.5 181.2L295.0 170.0L296.5 162.0L296.8 146.0L297.5 141.0L298.8 140.4L299.5 148.3L299.9 148.5L300.0 120.0L300.3 100.0L300.6 90.0L300.9 85.3L301.8 89.0L302.8 95.0L303.4 110.0L304.2 120.0L305.8 128.3L307.1 130.0L308.3 135.0L309.6 147.5L310.4 150.0L310.5 157.5L311.3 159.5L312.1 170.0L312.5 187.5L313.5 237.5L313.7 250.0L314.0 270.0L314.8 273.7L315.6 272.7L316.4 264.7L317.2 254.0L318.0 251.6L318.8 256.7L319.6 262.7L320.4 264.0L321.2 261.3L322.0 258.7L322.8 254.7L323.6 252.0L324.4 250.7L324.9 256.0L325.5 251.3L326.0 244.7L326.8 238.7L327.3 244.7L328.1 252.7L328.9 260.7L329.7 268.7L330.5 273.3L331.3 274.7L332.1 276.7L332.9 283.3L333.7 291.3L334.3 295.3L335.3 292.7L336.1 288.7L336.9 289.3L337.7 293.3L338.5 296.7L339.3 297.3L340.1 292.7L340.9 286.7L341.7 286.0L342.5 288.7L343.3 286.7L344.1 284.7L344.9 283.3L345.7 280.7L346.5 276.7L347.3 267.3L348.1 262.0L348.9 261.7L349.7 263.3L350.5 262.0L351.1 254.0L351.9 251.6L352.7 254.7L353.5 259.3L354.3 262.7L355.1 264.7L355.9 266.0L356.7 268.0L357.5 268.9L358.3 271.3L359.1 276.7L359.9 284.7L360.7 291.3L361.5 288.7L362.3 285.3L363.1 282.7L363.9 281.3L364.7 279.3L365.5 274.0L366.3 267.3L367.1 262.7L367.9 262.0L368.7 261.3L369.5 260.7L370.3 261.3L371.1 262.7L371.9 260.0L372.7 256.7L373.5 253.7L374.0 252.7L374.5 258.7L375.3 263.3L376.1 267.3L376.9 270.0L377.5 276.7L378.3 283.3L379.1 286.7L379.9 288.0L380.7 286.0L381.5 288.7L382.3 290.0L383.1 291.3L383.9 294.0L384.7 297.3L385.5 299.3L386.3 300.0L387.1 299.3L387.9 294.0L388.7 287.3L389.5 283.3L390.0 282.7L391.5 276.2L393.0 268.8L394.5 262.5L396.0 259.5L397.5 261.2L398.5 266.2L399.5 272.5L401.0 275.0L402.0 280.0L403.0 286.2L404.5 292.5L406.0 297.5L407.0 301.2L408.0 308.0L409.5 306.2L410.5 301.2L412.0 305.0L413.5 301.2L415.0 302.5L416.5 298.8L418.0 295.0L419.0 290.0L420.0 291.2L421.0 296.2L422.5 295.0L424.0 293.8L425.5 295.0L427.0 293.0L428.5 287.5L429.5 286.2L430.5 292.5L431.5 286.2L432.5 285.0L434.0 278.8L435.0 287.5L436.5 286.2L438.0 291.2L439.5 296.2L441.0 298.8L442.5 301.2L444.0 306.2L445.0 312.5L446.5 315.5L448.0 314.5L449.5 316.2L451.0 315.0L452.0 317.5L453.5 318.8L454.5 313.8L455.5 307.5L457.0 306.2L458.0 310.0L459.5 307.5L461.0 302.5L462.0 296.2L463.0 300.0L464.5 295.0L466.0 296.2L467.5 298.8L469.0 293.8L470.5 294.5L472.0 291.2L473.5 290.0L475.0 282.5L476.0 287.5L477.0 281.2L478.5 282.5L480.0 277.5L481.5 273.0L483.0 272.5L484.5 272.0L486.0 276.2L487.5 280.0L488.5 286.2L490.0 288.8L491.0 285.0L492.5 288.8L494.0 292.5L495.5 288.8L497.0 293.0L498.5 292.5L500.0 286.2L501.5 280.0L502.5 285.0L504.0 290.0L505.5 291.2L507.0 286.2L508.5 282.5L510.0 275.0L511.5 267.5L513.0 266.2L514.5 261.2L516.0 260.0L517.5 260.8L519.0 268.8L520.5 272.5L522.0 277.5L523.5 285.0L525.0 291.2L526.5 296.2L528.0 300.0L529.5 303.8L530.5 301.2L532.0 300.0L533.5 306.2L535.0 308.8L536.5 310.0L538.0 307.5L539.0 301.2L540.5 302.5L542.0 300.0L543.5 302.5L545.0 301.2L546.0 290.0L547.5 287.5L549.0 285.0L550.5 286.2L552.0 283.8L553.5 285.0L555.0 280.0L556.5 278.8L558.0 282.5L559.5 288.8L561.0 290.0L562.0 293.8L563.5 291.2L564.5 287.5L566.0 288.0L567.5 291.2L569.0 292.5L570.5 295.0L572.0 296.2L573.5 293.8L575.0 292.5L576.5 285.0L578.0 278.8L579.5 276.2L581.0 275.0L582.5 276.2L583.5 281.2L585.0 285.0L586.0 280.0L587.0 283.8L588.5 293.8L590.0 295.0L591.5 292.5L593.0 287.5L594.5 277.5L596.0 267.0L597.5 266.2L599.0 268.0L600.5 267.0L602.0 269.5L603.5 266.2L605.0 264.5L606.5 262.5L608.0 260.0L609.0 255.0L610.0 237.5L611.5 227.5L613.0 222.5L614.5 218.8L615.5 217.5L616.5 222.5L617.5 223.8L619.0 225.0L620.0 235.0L621.5 247.5L623.0 256.2L624.5 258.8L626.0 266.2L627.5 272.5L629.0 276.2L630.5 282.5L632.0 287.5L633.5 293.8L635.0 300.0L636.0 301.2L637.5 296.2L639.0 292.5L640.5 290.0L642.0 291.2L643.5 285.0L645.0 277.5L646.5 272.5L648.0 265.0L649.5 257.5L650.0 261.7L650.8 255.8L652.5 257.5L654.2 255.8L656.3 255.3L657.5 260.0L659.2 269.2L660.8 275.8L662.5 280.8L664.2 277.5L665.3 272.5L666.7 271.7L668.0 277.5L669.7 280.0L671.0 275.0L672.5 274.2L673.7 278.3L675.3 280.8L677.0 284.2L678.7 287.5L680.0 289.2L681.7 283.3L683.3 282.5L684.7 284.2L686.0 280.0L687.0 273.3L688.3 272.5L689.7 275.0L691.0 270.0L692.3 269.7L693.7 274.2L695.0 277.5L696.7 279.2L698.3 280.0L700.0 280.8L701.7 275.8L703.0 273.3L704.3 275.8L705.7 275.0L707.0 267.5L708.3 262.5L709.7 261.7L711.0 256.7L712.3 250.8L713.3 249.2L714.3 253.3L715.3 250.0L716.3 246.7L717.3 245.3L718.3 247.5L719.7 251.7L721.0 255.8L722.3 261.7L723.7 267.5L725.0 271.7L726.3 275.8L727.0 279.2L728.3 273.3L729.7 270.0L731.0 267.5L732.3 272.5L733.7 275.8L735.0 280.8L736.3 279.2L737.3 273.3L738.7 275.0L740.0 277.5L741.3 279.2L742.7 275.8L744.0 270.8L745.3 266.7L746.7 261.7L748.0 259.7L749.3 260.8L750.7 262.5L752.0 260.0L753.3 264.2L754.7 266.7L756.0 265.8L757.3 270.8L758.7 275.8L760.0 280.8L761.3 285.8L762.7 289.2L764.0 288.3L765.3 292.5L766.7 293.3L768.0 294.2L769.3 293.3L770.7 295.0L772.0 295.8L773.3 297.5L774.7 300.0L776.0 299.2L777.0 293.3L778.0 285.8L779.3 284.2L780.7 283.7L782.0 284.2L783.3 283.0L784.7 283.7L786.0 282.5L787.3 278.7L788.7 282.5L790.0 283.3L791.3 285.0L792.7 284.7L794.0 285.0L795.3 280.8L796.7 277.5L798.0 271.7L799.3 275.0L800.7 277.5L802.0 279.2L803.3 273.3L804.7 269.2L806.0 267.5L807.3 265.8L808.7 264.7L810.0 267.5L811.3 268.3L812.7 265.0L814.0 263.7L815.0 267.5L816.3 273.3L817.7 269.2L819.0 268.3L820.3 272.5L821.7 275.8L823.0 277.5L824.3 275.8L825.7 275.0L827.0 271.7L828.3 270.8L829.7 273.3L831.0 275.8L832.3 277.5L833.7 279.2L835.0 275.8L836.3 271.7L837.7 269.2L839.0 270.8L840.3 274.2L841.3 275.0L842.7 276.3L844.0 278.3L845.3 277.0L846.7 276.7L847.7 282.5L849.0 288.3L850.3 291.7L851.7 295.0L853.0 298.7L854.3 295.8L855.7 295.0L857.0 298.0L858.3 298.7L859.7 296.7L861.0 292.5L862.3 291.7L863.7 290.8L865.0 288.3L866.3 290.0L867.7 287.5L869.0 286.7L870.3 284.2L871.7 283.0L872.7 290.0L874.0 295.0L875.3 296.7L876.7 293.3L878.0 294.2L879.3 297.5L880.7 300.0L882.0 300.8L883.3 301.7L884.7 299.2L886.0 295.8L887.3 296.7L888.7 298.3L890.0 296.7L891.3 295.8L892.7 296.3L894.0 299.2L895.3 303.3L896.7 305.0L898.0 304.7L899.3 298.3L900.7 297.5L902.0 301.7L903.3 298.7L904.7 295.0L906.0 292.5L907.3 290.8L908.7 289.7L910.0 294.2L911.3 298.3L912.7 305.8L914.0 306.7L915.3 305.0L916.7 309.2L918.0 310.0L919.3 312.5L920.7 315.0L922.0 311.7L923.3 310.8L924.7 310.0L926.0 308.3L927.3 308.0L928.7 309.2L930.0 309.2L931.3 307.5L932.7 308.0L934.0 309.2L935.3 312.5L936.7 310.8L938.0 309.2L939.3 309.7L940.7 308.3L942.0 308.7L943.3 310.8L944.7 311.3L946.0 305.0L947.3 308.3L948.7 304.2L950.0 296.7L951.3 295.8L952.7 298.3L954.0 295.0L955.3 292.5L956.7 290.0L958.0 289.2L959.3 287.5L960.7 286.7L962.0 290.8L963.3 295.0L964.7 292.5L966.0 290.8L967.3 289.2L968.7 282.5L970.0 276.7L971.3 270.0L972.7 262.5L973.3 258.0L974.7 260.8L976.0 265.0L977.3 266.7L978.7 263.3L980.0 273.3L981.3 280.0L982.7 284.2L984.0 289.2L985.3 283.3L985.9 270.7L987.0 259.4L988.4 255.0L989.8 253.2L990.8 257.6L992.2 253.2L993.6 252.4L995.0 253.2L996.1 250.6L997.1 257.6L998.5 267.2L999.9 272.5L1001.3 273.4L1002.7 273.9L1004.1 276.0L1005.5 276.9L1006.9 278.6L1008.3 280.4L1009.7 281.2L1011.1 278.6L1012.5 276.0L1013.9 269.9L1015.3 263.7L1016.7 257.6L1018.1 253.2L1019.5 252.4L1020.9 257.6L1022.3 257.6L1023.7 262.0L1025.1 262.9L1026.5 264.6L1027.9 268.1L1029.3 271.6L1030.7 276.0L1032.1 275.1L1033.5 272.5L1034.9 269.0L1036.3 265.8L1037.7 270.7L1039.1 274.2L1040.5 276.0L1041.9 275.6L1043.3 278.6L1044.7 280.4L1046.1 285.6L1047.2 292.6L1048.2 292.6L1049.3 286.5L1050.3 282.1L1051.7 280.4L1053.1 279.5L1054.5 276.0L1055.9 274.2L1057.3 271.1L1058.7 269.9L1060.1 272.5L1061.5 276.0L1062.9 277.7L1064.3 280.4L1065.7 281.2L1067.1 277.7L1068.5 272.5L1069.9 265.5L1071.3 257.6L1072.7 252.9L1074.1 254.1L1075.5 256.7L1076.6 260.2L1077.6 265.8L1079.0 268.1L1080.4 273.4L1081.8 280.4L1083.2 290.0L1084.3 302.2L1085.3 304.3L1086.4 302.2L1087.1 291.7L1088.5 289.1L1089.9 286.5L1091.3 279.5L1092.7 272.5L1094.1 267.2L1095.5 265.5L1096.9 257.6L1098.3 253.2L1099.7 259.4L1101.1 256.7L1102.5 255.9L1103.9 254.1L1105.3 253.2L1106.3 256.7L1107.7 249.7L1109.1 252.4L1110.5 248.0L1111.9 238.4L1113.3 232.2L1114.7 233.1L1116.1 240.1L1117.5 248.9L1118.9 252.4L1120.3 252.9L1121.7 247.1L1123.1 241.9L1124.2 255.0L1125.6 261.1L1127.0 259.4L1128.4 245.4L1129.8 234.9L1130.8 230.8L1131.9 235.7L1133.3 240.1L1134.7 250.6L1136.1 242.7L1137.5 234.9L1138.9 240.1L1140.3 244.5L1141.7 253.2L1143.1 255.9L1144.5 255.0L1145.9 259.4L1147.3 261.1L1148.3 274.2L1149.7 276.9L1151.1 277.7L1152.5 276.0L1153.9 273.4L1154.6 271.6L1156.0 276.9L1157.4 274.2L1158.8 280.4L1160.2 281.2L1161.6 276.0L1163.0 269.0L1164.4 259.4L1165.5 252.9L1166.9 252.4L1167.9 252.9L1169.3 262.9L1170.7 271.6L1172.1 272.5L1173.2 269.9L1174.6 272.5L1176.0 283.0L1177.4 293.5L1178.4 304.0L1179.5 307.5L1180.5 307.1L1181.6 302.2L1182.1 301.9"/></g></svg>
<div class="g"><span class="t" style="left:8.64px;top:9.50px;font-size:15.5px;transform:scaleX(0.9786);-webkit-text-stroke:0.12px #24292e;">PM</span><span class="t" style="left:31.43px;top:9.50px;font-size:15.5px;transform:scaleX(1.1982);-webkit-text-stroke:0.12px #24292e;">*</span></div><div class="g"><span class="t" style="left:20.39px;top:418.00px;font-size:12.6px;transform:scaleX(1.0125);">0</span> <span class="t" style="left:30.82px;top:418.00px;font-size:12.6px;transform:scaleX(1.1160);">µg/m</span><span class="t" style="left:62.27px;top:418.00px;font-size:12.6px;transform:scaleX(1.2434);">³</span></div><div class="g"><span class="t" style="left:12.59px;top:376.00px;font-size:12.6px;transform:scaleX(1.0656);">10</span> <span class="t" style="left:30.82px;top:376.00px;font-size:12.6px;transform:scaleX(1.1160);">µg/m</span><span class="t" style="left:62.27px;top:376.00px;font-size:12.6px;transform:scaleX(1.2434);">³</span></div><div class="g"><span class="t" style="left:11.97px;top:334.00px;font-size:12.6px;transform:scaleX(1.1119);">20</span> <span class="t" style="left:30.82px;top:334.00px;font-size:12.6px;transform:scaleX(1.1160);">µg/m</span><span class="t" style="left:62.27px;top:334.00px;font-size:12.6px;transform:scaleX(1.2434);">³</span></div><div class="g"><span class="t" style="left:12.12px;top:292.00px;font-size:12.6px;transform:scaleX(1.1011);">30</span> <span class="t" style="left:30.82px;top:292.00px;font-size:12.6px;transform:scaleX(1.1160);">µg/m</span><span class="t" style="left:62.27px;top:292.00px;font-size:12.6px;transform:scaleX(1.2434);">³</span></div><div class="g"><span class="t" style="left:12.33px;top:250.00px;font-size:12.6px;transform:scaleX(1.0853);">40</span> <span class="t" style="left:30.82px;top:250.00px;font-size:12.6px;transform:scaleX(1.1160);">µg/m</span><span class="t" style="left:62.27px;top:250.00px;font-size:12.6px;transform:scaleX(1.2434);">³</span></div><div class="g"><span class="t" style="left:12.12px;top:209.00px;font-size:12.6px;transform:scaleX(1.1011);">50</span> <span class="t" style="left:30.82px;top:209.00px;font-size:12.6px;transform:scaleX(1.1160);">µg/m</span><span class="t" style="left:62.27px;top:209.00px;font-size:12.6px;transform:scaleX(1.2434);">³</span></div><div class="g"><span class="t" style="left:11.97px;top:167.00px;font-size:12.6px;transform:scaleX(1.1119);">60</span> <span class="t" style="left:30.82px;top:167.00px;font-size:12.6px;transform:scaleX(1.1160);">µg/m</span><span class="t" style="left:62.27px;top:167.00px;font-size:12.6px;transform:scaleX(1.2434);">³</span></div><div class="g"><span class="t" style="left:11.97px;top:125.00px;font-size:12.6px;transform:scaleX(1.1119);">70</span> <span class="t" style="left:30.82px;top:125.00px;font-size:12.6px;transform:scaleX(1.1160);">µg/m</span><span class="t" style="left:62.27px;top:125.00px;font-size:12.6px;transform:scaleX(1.2434);">³</span></div><div class="g"><span class="t" style="left:12.04px;top:83.00px;font-size:12.6px;transform:scaleX(1.1065);">80</span> <span class="t" style="left:30.82px;top:83.00px;font-size:12.6px;transform:scaleX(1.1160);">µg/m</span><span class="t" style="left:62.27px;top:83.00px;font-size:12.6px;transform:scaleX(1.2434);">³</span></div><div class="g"><span class="t" style="left:12.04px;top:41.00px;font-size:12.6px;transform:scaleX(1.1065);">90</span> <span class="t" style="left:30.82px;top:41.00px;font-size:12.6px;transform:scaleX(1.1160);">µg/m</span><span class="t" style="left:62.27px;top:41.00px;font-size:12.6px;transform:scaleX(1.2434);">³</span></div><div class="t" style="left:95.74px;top:433.00px;font-size:12.6px;transform:scaleX(1.0183);">14:00</div><div class="t" style="left:188.74px;top:433.00px;font-size:12.6px;transform:scaleX(1.0183);">16:00</div><div class="t" style="left:280.74px;top:433.00px;font-size:12.6px;transform:scaleX(1.0183);">18:00</div><div class="t" style="left:374.07px;top:433.00px;font-size:12.6px;transform:scaleX(1.0077);">20:00</div><div class="t" style="left:466.07px;top:433.00px;font-size:12.6px;transform:scaleX(1.0077);">22:00</div><div class="t" style="left:559.19px;top:433.00px;font-size:12.6px;transform:scaleX(1.0035);">00:00</div><div class="t" style="left:651.19px;top:433.00px;font-size:12.6px;transform:scaleX(1.0035);">02:00</div><div class="t" style="left:744.19px;top:433.00px;font-size:12.6px;transform:scaleX(1.0035);">04:00</div><div class="t" style="left:836.19px;top:433.00px;font-size:12.6px;transform:scaleX(1.0035);">06:00</div><div class="t" style="left:929.19px;top:433.00px;font-size:12.6px;transform:scaleX(1.0035);">08:00</div><div class="t" style="left:1020.74px;top:433.00px;font-size:12.6px;transform:scaleX(1.0183);">10:00</div><div class="t" style="left:1113.74px;top:433.00px;font-size:12.6px;transform:scaleX(1.0183);">12:00</div><div class="t" style="left:38.96px;top:451.00px;font-size:12.6px;transform:scaleX(1.0311);color:#1f62e0;-webkit-text-stroke:0.25px #1f62e0;">Name</div><div class="t" style="left:1054.14px;top:451.00px;font-size:12.6px;transform:scaleX(1.0970);color:#1f62e0;-webkit-text-stroke:0.25px #1f62e0;">Min</div><div class="t" style="left:1138.44px;top:451.00px;font-size:12.6px;transform:scaleX(1.0472);color:#1f62e0;-webkit-text-stroke:0.25px #1f62e0;">Max</div><div class="sw" style="top:481px;background:#56A64B"></div><div class="t" style="left:39.06px;top:475.00px;font-size:12.6px;transform:scaleX(0.9276);">PM1</div><div class="g"><span class="t" style="left:1035.11px;top:475.00px;font-size:12.6px;transform:scaleX(1.0140);">7.20</span> <span class="t" style="left:1063.60px;top:475.00px;font-size:12.6px;transform:scaleX(1.0821);">µg/m</span><span class="t" style="left:1094.12px;top:475.00px;font-size:12.6px;transform:scaleX(1.2434);">³</span></div><div class="g"><span class="t" style="left:1116.85px;top:475.00px;font-size:12.6px;transform:scaleX(1.0354);">24.8</span> <span class="t" style="left:1145.76px;top:475.00px;font-size:12.6px;transform:scaleX(1.1217);">µg/m</span><span class="t" style="left:1177.37px;top:475.00px;font-size:12.6px;transform:scaleX(1.2434);">³</span></div><div class="sw" style="top:505px;background:#E0B400"></div><div class="t" style="left:38.95px;top:499.00px;font-size:12.6px;transform:scaleX(1.0386);">PM2.5</div><div class="g"><span class="t" style="left:1032.87px;top:499.00px;font-size:12.6px;transform:scaleX(1.1073);">9.70</span> <span class="t" style="left:1063.60px;top:499.00px;font-size:12.6px;transform:scaleX(1.0821);">µg/m</span><span class="t" style="left:1094.12px;top:499.00px;font-size:12.6px;transform:scaleX(1.2434);">³</span></div><div class="g"><span class="t" style="left:1116.85px;top:499.00px;font-size:12.6px;transform:scaleX(1.0354);">26.8</span> <span class="t" style="left:1145.76px;top:499.00px;font-size:12.6px;transform:scaleX(1.1217);">µg/m</span><span class="t" style="left:1177.37px;top:499.00px;font-size:12.6px;transform:scaleX(1.2434);">³</span></div><div class="sw" style="top:529px;background:#5794F2"></div><div class="t" style="left:38.97px;top:522.00px;font-size:12.6px;transform:scaleX(1.0201);">PM4</div><div class="g"><span class="t" style="left:1048.28px;top:522.00px;font-size:12.6px;transform:scaleX(0.9000);">11</span> <span class="t" style="left:1063.60px;top:522.00px;font-size:12.6px;transform:scaleX(1.0821);">µg/m</span><span class="t" style="left:1094.12px;top:522.00px;font-size:12.6px;transform:scaleX(1.2434);">³</span></div><div class="g"><span class="t" style="left:1116.85px;top:522.00px;font-size:12.6px;transform:scaleX(1.0354);">28.8</span> <span class="t" style="left:1145.76px;top:522.00px;font-size:12.6px;transform:scaleX(1.1217);">µg/m</span><span class="t" style="left:1177.37px;top:522.00px;font-size:12.6px;transform:scaleX(1.2434);">³</span></div><div class="sw" style="top:553px;background:#FA6400"></div><div class="t" style="left:39.04px;top:546.00px;font-size:12.6px;transform:scaleX(0.9562);">PM10</div><div class="g"><span class="t" style="left:1035.88px;top:546.00px;font-size:12.6px;transform:scaleX(0.9770);">19.4</span> <span class="t" style="left:1063.60px;top:546.00px;font-size:12.6px;transform:scaleX(1.0821);">µg/m</span><span class="t" style="left:1094.12px;top:546.00px;font-size:12.6px;transform:scaleX(1.2434);">³</span></div><div class="g"><span class="t" style="left:1118.51px;top:546.00px;font-size:12.6px;transform:scaleX(0.9712);">37.2</span> <span class="t" style="left:1145.76px;top:546.00px;font-size:12.6px;transform:scaleX(1.1217);">µg/m</span><span class="t" style="left:1177.37px;top:546.00px;font-size:12.6px;transform:scaleX(1.2434);">³</span></div><div class="sw" style="top:577px;background:#E02F44"></div><div class="t" style="left:38.92px;top:570.00px;font-size:12.6px;transform:scaleX(1.0710);">PM total</div><div class="g"><span class="t" style="left:1033.88px;top:570.00px;font-size:12.6px;transform:scaleX(1.0682);">25.6</span> <span class="t" style="left:1063.60px;top:570.00px;font-size:12.6px;transform:scaleX(1.0821);">µg/m</span><span class="t" style="left:1094.12px;top:570.00px;font-size:12.6px;transform:scaleX(1.2434);">³</span></div><div class="g"><span class="t" style="left:1119.02px;top:570.00px;font-size:12.6px;transform:scaleX(0.9500);">81.2</span> <span class="t" style="left:1145.76px;top:570.00px;font-size:12.6px;transform:scaleX(1.1217);">µg/m</span><span class="t" style="left:1177.37px;top:570.00px;font-size:12.6px;transform:scaleX(1.2434);">³</span></div><div class="hl" style="top:471px"></div><div class="hl" style="top:495px"></div><div class="hl" style="top:518px"></div><div class="hl" style="top:542px"></div><div class="hl" style="top:566px"></div><div class="hl" style="top:590px"></div>
</body></html>
